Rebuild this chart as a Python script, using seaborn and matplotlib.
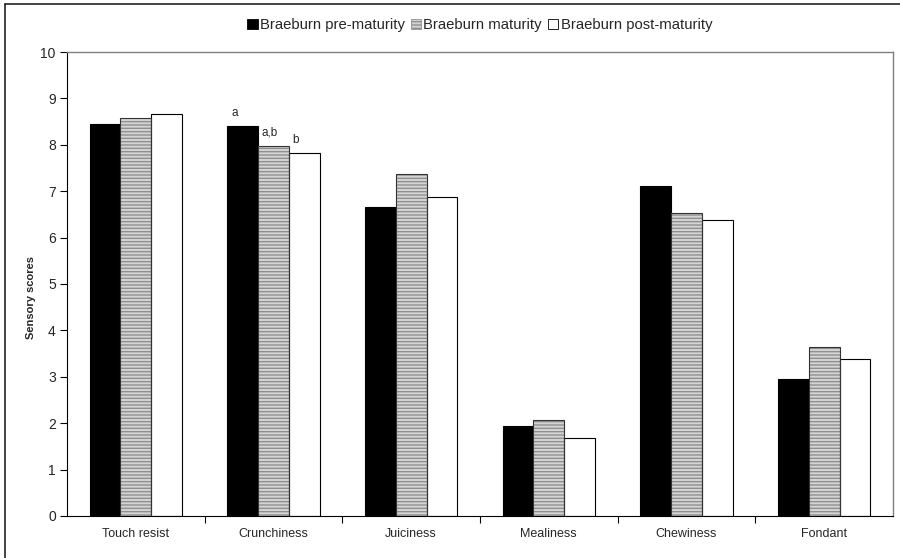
import pandas as pd
import matplotlib.pyplot as plt
import seaborn as sns
from matplotlib.patches import Patch, Rectangle
from matplotlib.lines import Line2D

# data
attributes = ['Touch resist', 'Crunchiness', 'Juiciness', 'Mealiness', 'Chewiness', 'Fondant']
series = ['Braeburn pre-maturity', 'Braeburn maturity', 'Braeburn post-maturity']
pre_maturity = [8.45, 8.40, 6.67, 1.93, 7.12, 2.95]
maturity = [8.58, 7.98, 7.37, 2.07, 6.52, 3.65]
post_maturity = [8.66, 7.82, 6.87, 1.68, 6.38, 3.38]
letters = ['a', 'a,b', 'b']   # significance letters on Crunchiness
letters_attr = 'Crunchiness'

rows = []
for name, vals in zip(series, [pre_maturity, maturity, post_maturity]):
    for attr, v in zip(attributes, vals):
        rows.append({'attribute': attr, 'series': name, 'score': v})
df = pd.DataFrame(rows)

sns.set_style('white')
plt.rcParams['font.family'] = ['Liberation Sans', 'DejaVu Sans']

fig = plt.figure(figsize=(9, 5.58), dpi=100)
ax = fig.add_axes([0.0744, 0.0753, 0.9178, 0.8315])

colors = ['black', '#d4d4d4', 'white']
sns.barplot(data=df, x='attribute', y='score', hue='series', order=attributes,
            hue_order=series, palette=colors, width=0.67, saturation=1,
            edgecolor='black', linewidth=0.8, errorbar=None, legend=False, ax=ax)

# hatched grey bars: grey horizontal lines, dark outline on top
n = len(attributes)
bars = ax.patches[:3 * n]
for p in bars[n:2 * n]:
    p.set_edgecolor('#909090')
    p.set_hatch('-----')
    p.set_linewidth(0)
    ax.add_patch(Rectangle((p.get_x(), p.get_y()), p.get_width(), p.get_height(),
                           fill=False, edgecolor='#333333', linewidth=0.8, zorder=p.get_zorder() + 0.1))

# significance letters
ci = attributes.index(letters_attr)
for k, lab in enumerate(letters):
    p = bars[k * n + ci]
    ax.annotate(lab, (p.get_x() + p.get_width() * 0.12, p.get_height()),
                xytext=(0, 5), textcoords='offset points', ha='left', va='bottom', fontsize=8.5)

ax.set_xlim(-0.5, n - 0.5)
ax.set_ylim(0, 10)
ax.set_yticks(range(0, 11))
ax.set_xlabel('')
ax.set_ylabel('Sensory scores', fontsize=8, fontweight='bold', labelpad=8)
ax.yaxis.set_label_coords(-0.037, 0.47)

# category labels centred, ticks on group boundaries
ax.set_xticks(range(n))
ax.set_xticklabels(attributes, fontsize=9)
ax.set_xticks([i + 0.5 for i in range(n - 1)], minor=True)
ax.tick_params(axis='x', which='major', length=0, pad=9)
ax.tick_params(axis='x', which='minor', length=5, width=0.8, color='black', direction='out', bottom=True)
ax.tick_params(axis='y', length=5, width=0.8, color='black', direction='out', left=True, labelsize=10, pad=3)

for s in ['left', 'bottom']:
    ax.spines[s].set_color('black')
    ax.spines[s].set_linewidth(0.8)
for s in ['top', 'right']:
    ax.spines[s].set_color('#808080')
    ax.spines[s].set_linewidth(1.0)

handles = [Patch(facecolor='black', edgecolor='black', linewidth=0.6),
           Patch(facecolor='#d4d4d4', edgecolor='#909090', hatch='-----', linewidth=0.6),
           Patch(facecolor='white', edgecolor='black', linewidth=0.6)]
fig.legend(handles, series, loc='center', bbox_to_anchor=(0.533, 0.955), ncol=3, frameon=False,
           fontsize=10.7, handlelength=0.7, handleheight=0.7, handletextpad=0.15, columnspacing=0.4)

# outer frame (top and left edges visible)
fig.add_artist(Line2D([0.0056, 1.0], [0.9928, 0.9928], color='#222222', linewidth=1.2))
fig.add_artist(Line2D([0.0056, 0.0056], [0.0, 0.9928], color='#222222', linewidth=1.2))

fig.savefig('out.png', dpi=100)
